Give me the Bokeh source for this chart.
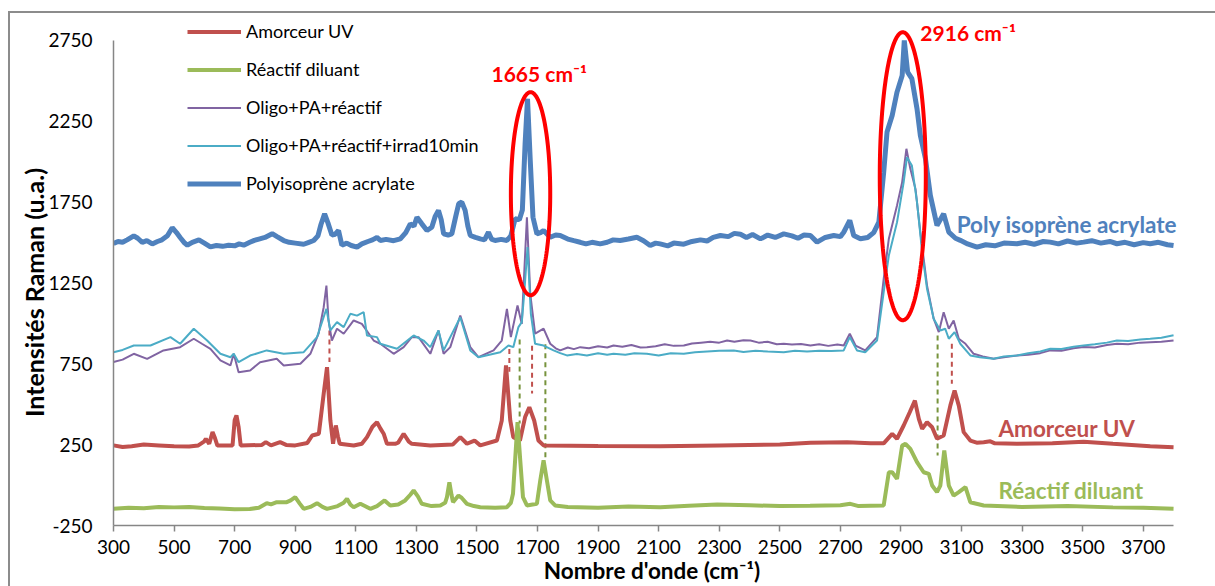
import numpy as np
from bokeh.plotting import figure
from bokeh.models import (Range1d, FixedTicker, Legend, LegendItem, Label,
                          PolyAnnotation, PrintfTickFormatter)
from bokeh.embed import file_html
from bokeh.resources import INLINE

FONT = "Lato"

# ---------------- data ----------------
x_ticks = [300, 500, 700, 900, 1100, 1300, 1500, 1700, 1900, 2100, 2300,
           2500, 2700, 2900, 3100, 3300, 3500, 3700]
y_ticks = [-250, 250, 750, 1250, 1750, 2250, 2750]

series_names = ["Amorceur UV", "Réactif diluant", "Oligo+PA+réactif",
                "Oligo+PA+réactif+irrad10min", "Polyisoprène acrylate"]

x_amorceur = [300, 330, 360, 400, 450, 500, 550, 580, 600, 605, 616, 627, 635, 643, 693,
              700, 706, 713, 720, 790, 803, 820, 850, 870, 900, 940, 956, 978, 994,
              1005, 1016, 1025, 1034, 1041, 1047, 1093, 1120, 1137, 1155, 1170, 1181,
              1192, 1203, 1230, 1240, 1258, 1275, 1285, 1346, 1420, 1445, 1467, 1492,
              1511, 1566, 1582, 1596, 1610, 1620, 1642, 1659, 1673, 1689, 1703, 1720,
              1900, 2105, 2300, 2500, 2601, 2722, 2800, 2843, 2871, 2887, 2909, 2929,
              2946, 2959, 2970, 2986, 3003, 3019, 3041, 3063, 3077, 3091, 3107, 3129,
              3150, 3173, 3195, 3210, 3283, 3400, 3503, 3600, 3723, 3800]
y_amorceur = [245, 235, 240, 250, 245, 240, 238, 245, 270, 286, 255, 327, 290, 244, 244,
              400, 430, 360, 244, 248, 265, 245, 265, 248, 245, 260, 306, 317, 564,
              728, 400, 255, 368, 300, 255, 244, 255, 296, 360, 388, 350,
              317, 255, 255, 262, 317, 268, 255, 245, 250, 296, 255, 275,
              245, 275, 399, 739, 399, 296, 275, 420, 481, 399, 275, 245,
              242, 240, 245, 250, 261, 265, 258, 258, 316, 286, 368, 450,
              522, 409, 347, 388, 357, 286, 306, 491, 584, 491, 327, 275,
              262, 265, 270, 258, 255, 258, 268, 255, 240, 234]

x_diluant = [300, 350, 400, 450, 500, 550, 600, 650, 700, 750, 780, 806, 820, 839, 872,
             885, 900, 915, 928, 950, 972, 990, 1005, 1040, 1060, 1071, 1082, 1093,
             1115, 1130, 1148, 1170, 1195, 1214, 1240, 1263, 1280, 1291, 1305, 1318,
             1350, 1379, 1395, 1401, 1409, 1416, 1421, 1439, 1450, 1467, 1490, 1511,
             1560, 1599, 1612, 1619, 1626, 1634, 1643, 1652, 1665, 1698, 1709, 1720,
             1731, 1742, 1758, 1800, 1900, 2000, 2105, 2200, 2293, 2400, 2500, 2600,
             2700, 2733, 2760, 2800, 2843, 2860, 2871, 2887, 2904, 2915, 2931, 2953,
             2975, 2992, 3003, 3019, 3030, 3043, 3058, 3074, 3091, 3113, 3129, 3173,
             3300, 3450, 3600, 3700, 3800]
y_diluant = [-147, -140, -143, -135, -138, -135, -142, -145, -150, -148, -140, -112, -120,
             -106, -106, -95, -75, -115, -147, -135, -112, -135, -147, -130, -110, -85,
             -120, -137, -116, -130, -147, -130, -95, -126, -120, -95, -60, -34, -70,
             -116, -130, -126, -110, -75, 17, -60, -106, -65, -80, -116, -130, -137,
             -140, -137, -110, -54, 152, 388, 152, -75, -126, -116, 28, 152,
             28, -95, -126, -135, -140, -132, -137, -128, -120, -125, -130, -128,
             -125, -116, -130, -128, -126, 79, 79, 38, 244, 255, 224, 141,
             79, 69, -3, -44, -3, 213, -3, -65, -44, -13, -106, -126,
             -135, -130, -138, -140, -147]

x_oligo = [300, 330, 367, 411, 465, 520, 565, 592, 620, 653, 686, 697, 713, 751, 784,
           839, 862, 917, 950, 977, 994, 1003, 1010, 1021, 1038, 1060, 1093, 1120,
           1159, 1181, 1225, 1258, 1285, 1307, 1346, 1373, 1390, 1412, 1445, 1478,
           1505, 1555, 1582, 1599, 1612, 1634, 1648, 1665, 1676, 1692, 1720, 1742,
           1760, 1775, 1800, 1820, 1841, 1870, 1900, 1930, 1951, 1980, 2010, 2040,
           2061, 2090, 2120, 2150, 2183, 2210, 2240, 2270, 2300, 2326, 2350, 2380,
           2403, 2430, 2460, 2490, 2513, 2540, 2570, 2601, 2630, 2660, 2690, 2711,
           2731, 2750, 2782, 2821, 2843, 2860, 2887, 2904, 2918, 2931, 2948, 2964,
           2986, 3008, 3025, 3041, 3058, 3074, 3091, 3113, 3140, 3170, 3206, 3240,
           3283, 3320, 3360, 3393, 3430, 3470, 3503, 3540, 3580, 3613, 3650, 3690,
           3723, 3760, 3800]
y_oligo = [760, 775, 811, 780, 832, 852, 904, 873, 842, 770, 739, 811, 697, 708, 759,
           780, 739, 749, 811, 935, 1099, 1233, 1017, 893, 966, 935, 1017, 996,
           893, 873, 811, 852, 914, 914, 811, 955, 811, 852, 1048, 852,
           790, 832, 893, 1089, 914, 1110, 996, 1655, 1182, 935, 966, 873,
           845, 832, 850, 840, 852, 845, 858, 850, 862, 855, 865, 850,
           852, 858, 870, 860, 862, 875, 880, 885, 880, 893, 885, 895,
           893, 880, 885, 870, 873, 868, 872, 862, 870, 860, 868, 862,
           935, 862, 832, 914, 1274, 1522, 1728, 1872, 2078, 1954, 1830, 1563,
           1234, 1028, 945, 1068, 966, 1017, 904, 873, 811, 795, 780, 790,
           801, 805, 815, 832, 830, 845, 853, 850, 865, 873, 870, 880,
           883, 885, 893]

x_irrad = [300, 330, 367, 422, 488, 520, 565, 609, 653, 686, 697, 713, 751, 806, 862,
           928, 972, 1003, 1016, 1038, 1060, 1082, 1104, 1126, 1137, 1170, 1181,
           1236, 1291, 1324, 1346, 1373, 1390, 1445, 1478, 1505, 1577, 1604, 1620,
           1637, 1648, 1656, 1667, 1678, 1692, 1720, 1753, 1775, 1797, 1830, 1863,
           1900, 1930, 1951, 1990, 2020, 2061, 2100, 2140, 2183, 2220, 2260, 2300,
           2348, 2380, 2420, 2460, 2513, 2550, 2590, 2630, 2670, 2711, 2731, 2755,
           2782, 2821, 2843, 2860, 2887, 2909, 2920, 2936, 2953, 2970, 2986, 3008,
           3030, 3046, 3058, 3077, 3096, 3129, 3160, 3206, 3240, 3283, 3320, 3360,
           3393, 3430, 3470, 3503, 3540, 3580, 3613, 3650, 3690, 3723, 3760, 3800]
y_irrad = [821, 835, 862, 862, 914, 873, 966, 893, 811, 790, 811, 759, 800, 832, 811,
           821, 914, 1089, 955, 1007, 976, 1058, 1047, 1068, 924, 914, 873,
           842, 924, 893, 852, 955, 832, 1037, 832, 790, 821, 862, 852,
           976, 1007, 1182, 1470, 1058, 873, 862, 832, 815, 801, 810, 801,
           815, 805, 811, 805, 815, 811, 800, 815, 811, 820, 825, 830,
           832, 822, 830, 825, 821, 830, 825, 830, 828, 832, 914, 832,
           821, 893, 1192, 1419, 1624, 1872, 2026, 1975, 1748, 1439, 1213, 1028,
           955, 966, 904, 945, 873, 801, 790, 780, 795, 801, 815, 825,
           842, 840, 855, 863, 870, 880, 893, 890, 900, 904, 910, 925]

x_poly = [300, 315, 330, 345, 367, 380, 395, 410, 428, 445, 460, 478, 494, 508, 520, 535,
          544, 560, 582, 600, 620, 640, 660, 680, 700, 715, 730, 750, 765, 780, 800,
          824, 840, 862, 880, 900, 928, 945, 961, 975, 985, 997, 1008, 1021, 1032,
          1043, 1054, 1070, 1085, 1104, 1120, 1140, 1155, 1170, 1181, 1200, 1225,
          1247, 1265, 1280, 1292, 1302, 1318, 1335, 1351, 1362, 1373, 1382, 1390,
          1405, 1417, 1430, 1440, 1450, 1461, 1470, 1478, 1495, 1511, 1525, 1538,
          1548, 1560, 1580, 1599, 1612, 1626, 1640, 1650, 1659, 1667, 1676, 1685,
          1698, 1710, 1720, 1742, 1760, 1775, 1800, 1820, 1841, 1860, 1880, 1907,
          1930, 1950, 1973, 2000, 2028, 2050, 2072, 2090, 2105, 2130, 2150, 2183,
          2210, 2238, 2260, 2280, 2304, 2330, 2350, 2370, 2390, 2410, 2436, 2460,
          2485, 2513, 2540, 2560, 2580, 2601, 2623, 2650, 2678, 2700, 2711, 2731,
          2744, 2766, 2790, 2810, 2827, 2843, 2854, 2871, 2887, 2904, 2911, 2922,
          2936, 2953, 2964, 2981, 2997, 3019, 3041, 3058, 3080, 3096, 3120, 3151,
          3180, 3210, 3240, 3283, 3310, 3340, 3370, 3393, 3420, 3450, 3480, 3503,
          3530, 3560, 3590, 3613, 3640, 3670, 3700, 3723, 3750, 3780, 3800]
y_poly = [1492, 1505, 1500, 1515, 1540, 1525, 1500, 1510, 1490, 1505, 1515, 1540, 1590,
          1560, 1530, 1495, 1482, 1500, 1515, 1495, 1472, 1480, 1475, 1482, 1478,
          1490, 1482, 1500, 1512, 1520, 1530, 1553, 1535, 1511, 1500, 1495, 1488,
          1500, 1511, 1540, 1610, 1676, 1620, 1545, 1550, 1573, 1482, 1495, 1480,
          1470, 1490, 1505, 1515, 1530, 1511, 1518, 1510, 1521, 1560, 1614, 1600,
          1655, 1614, 1573, 1593, 1660, 1697, 1640, 1552, 1545, 1552, 1660, 1740,
          1748, 1697, 1600, 1542, 1530, 1521, 1515, 1562, 1520, 1511, 1518, 1511,
          1540, 1645, 1640, 1700, 2109, 2387, 2006, 1655, 1552, 1560, 1573, 1531,
          1545, 1542, 1520, 1510, 1500, 1490, 1500, 1490, 1500, 1515, 1511, 1520,
          1531, 1510, 1480, 1495, 1490, 1478, 1495, 1488, 1505, 1515, 1508, 1530,
          1542, 1535, 1555, 1550, 1530, 1548, 1521, 1545, 1530, 1552, 1540, 1525,
          1545, 1542, 1501, 1530, 1542, 1535, 1562, 1635, 1542, 1522, 1530, 1560,
          1624, 1933, 2181, 2284, 2428, 2531, 2747, 2552, 2511, 2325, 2160, 2016,
          1790, 1604, 1676, 1563, 1525, 1512, 1490, 1470, 1485, 1478, 1495, 1491,
          1500, 1488, 1505, 1501, 1490, 1508, 1495, 1501, 1510, 1495, 1505, 1491,
          1500, 1485, 1498, 1491, 1500, 1485, 1480]

# vertical dashed guide lines (wavenumber, top, bottom)
guide_x = [1013, 1607, 1641, 1682, 1726, 3021, 3068]
guide_top = [955, 840, 900, 860, 870, 924, 873]
guide_bottom = [760, 700, 380, 565, 165, 183, 626]
guide_color = ["#C0504D", "#C0504D", "#77933C", "#C0504D", "#77933C", "#77933C", "#C0504D"]

# highlight ellipses (centre, full width, full height) in data units
ellipse_x = [1677, 2906]
ellipse_y = [1800, 1908]
ellipse_w = [130, 152]
ellipse_h = [1255, 1780]

# ---------------- figure ----------------
X_RIGHT = 3856.0  # frame a little wider than the axis so the right-hand label is not clipped
Y_TOP = 2938.5    # frame reaches above the last tick so top annotations are not clipped
border_css = {
    "background-image": "linear-gradient(#8C8C8C, #8C8C8C), linear-gradient(#8C8C8C, #8C8C8C)",
    "background-size": "2px 100%, 100% 2px",
    "background-position": "8px 11px, 8px 11px",
    "background-repeat": "no-repeat",
}
p = figure(width=1215, height=586, output_backend="svg", toolbar_location=None,
           x_range=Range1d(300, X_RIGHT), y_range=Range1d(-250, Y_TOP),
           min_border_left=113, min_border_right=25, min_border_top=9,
           min_border_bottom=61, styles=border_css)
p.background_fill_alpha = 0
p.border_fill_alpha = 0
p.outline_line_color = None
p.xgrid.visible = False
p.ygrid.visible = False

axis_grey = "#868686"
p.xaxis.ticker = FixedTicker(ticks=x_ticks)
p.yaxis.ticker = FixedTicker(ticks=y_ticks)
p.xaxis.bounds = (300, 3800)
p.yaxis.bounds = (-250, 2750)
for ax in (p.xaxis, p.yaxis):
    ax.axis_line_color = axis_grey
    ax.axis_line_width = 1.5
    ax.major_tick_line_color = axis_grey
    ax.major_tick_line_width = 1.5
    ax.minor_tick_line_color = None
    ax.formatter = PrintfTickFormatter(format="%d")
    ax.major_label_text_font = FONT
    ax.major_label_text_font_size = "19px"
    ax.major_label_text_color = "#000000"
    ax.axis_label_text_font = FONT
    ax.axis_label_text_font_style = "bold"
    ax.axis_label_text_color = "#000000"
p.xaxis.major_tick_in = 0
p.xaxis.major_tick_out = 6
p.xaxis.major_label_standoff = 8
p.xaxis.axis_label = "Nombre d'onde (cm\u207b\u00b9)"
p.xaxis.axis_label_text_font_size = "22.5px"
p.xaxis.axis_label_standoff = 0
p.yaxis.major_tick_in = 0
p.yaxis.major_tick_out = 0
p.yaxis.major_label_standoff = 21
p.yaxis.axis_label = "Intensités Raman (u.a.)\u2003\u2003\u2002"
p.yaxis.axis_label_text_font_size = "25px"
p.yaxis.axis_label_standoff = -4

# dashed guides
p.segment(x0=guide_x, y0=guide_top, x1=guide_x, y1=guide_bottom,
          line_color=guide_color, line_width=2, line_dash="5 4")

# spectra
r_am = p.line(x_amorceur, y_amorceur, line_color="#C0504D", line_width=4)
r_di = p.line(x_diluant, y_diluant, line_color="#9BBB59", line_width=4)
r_ol = p.line(x_oligo, y_oligo, line_color="#8064A2", line_width=2)
r_ir = p.line(x_irrad, y_irrad, line_color="#4BACC6", line_width=2)
r_po = p.line(x_poly, y_poly, line_color="#4F81BD", line_width=5)

legend = Legend(items=[LegendItem(label=n, renderers=[r]) for n, r in
                       zip(series_names, [r_am, r_di, r_ol, r_ir, r_po])],
                location=(74, 331), orientation="vertical",
                padding=0, margin=0, spacing=16, glyph_width=54, glyph_height=21,
                label_height=21, label_standoff=5,
                label_text_font=FONT, label_text_font_size="18px",
                label_text_color="#000000",
                border_line_color=None, background_fill_alpha=0)
p.add_layout(legend)

# ellipses
t = np.linspace(0, 2 * np.pi, 181)
for cx, cy, w, h in zip(ellipse_x, ellipse_y, ellipse_w, ellipse_h):
    p.add_layout(PolyAnnotation(xs=list(cx + w / 2 * np.cos(t)),
                                ys=list(cy + h / 2 * np.sin(t)),
                                fill_alpha=0, line_color="#FF0000",
                                line_alpha=1.0, line_width=4))

# red peak labels
sup = "\u207b\u00b9"
for txt, lx, ly in [("1665 cm" + sup, 1548, 2545), ("2916 cm" + sup, 2964, 2795)]:
    p.add_layout(Label(x=lx, y=ly, text=txt, text_color="#FF0000",
                       text_font=FONT, text_font_style="bold",
                       text_font_size="21px", text_baseline="middle",
                       text_align="left"))

# series labels on the right
for txt, col, lx, ly in [("Poly isoprène acrylate", "#4F81BD", 3084, 1610),
                         ("Amorceur UV", "#C0504D", 3222, 349),
                         ("Réactif diluant", "#9BBB59", 3222, -36)]:
    p.add_layout(Label(x=lx, y=ly, text=txt, text_color=col,
                       text_font=FONT, text_font_style="bold",
                       text_font_size="22.5px", text_baseline="middle",
                       text_align="left"))

open("out.html", "w").write(file_html(p, INLINE))
